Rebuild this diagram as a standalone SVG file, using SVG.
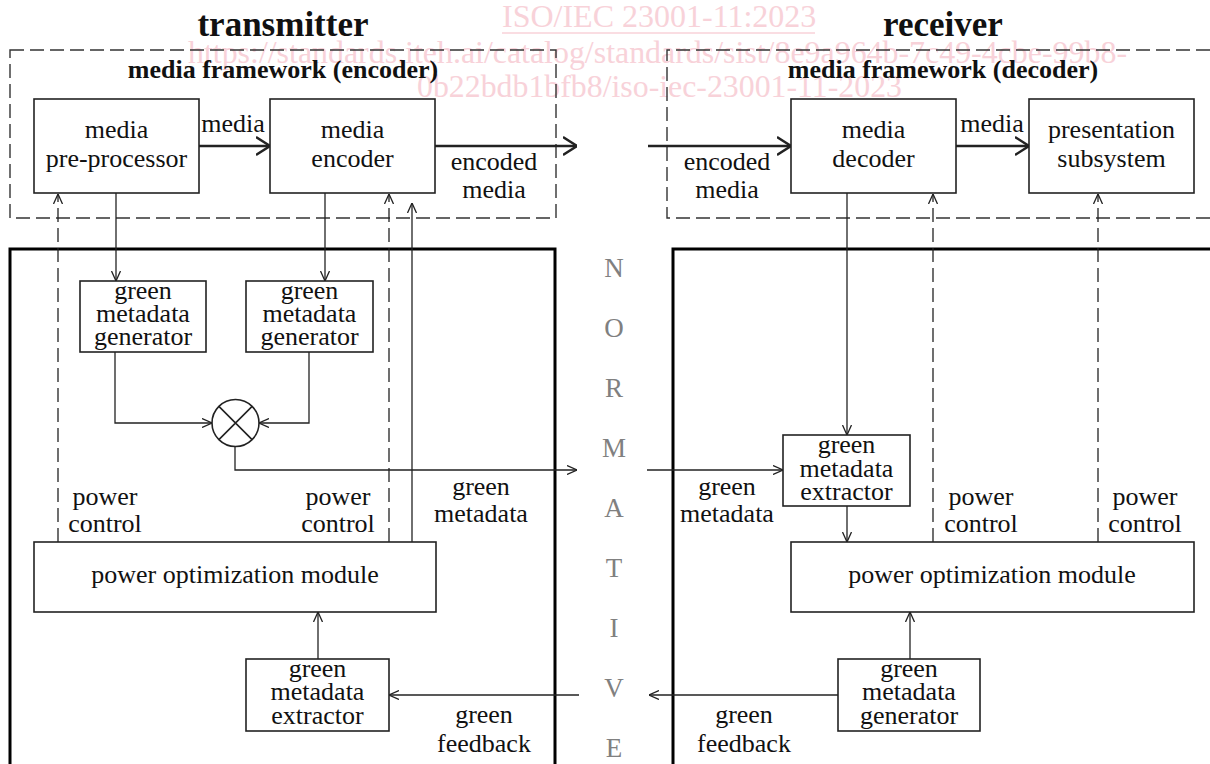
<svg xmlns="http://www.w3.org/2000/svg" width="1210" height="764" viewBox="0 0 1210 764">
<defs>
<style>
text{font-family:"Liberation Serif","Times New Roman",serif;font-size:26px;fill:#111;text-anchor:middle}
.wm{fill:#f8d2d9;font-size:32px;text-anchor:start}
.title{font-weight:bold;font-size:35px}
.fw{font-weight:bold;font-size:26px}
.norm{fill:#808080;font-size:27px}
.box{fill:none;stroke:#222;stroke-width:1.6}
.thin{fill:none;stroke:#222;stroke-width:1.3}
.dash{fill:none;stroke:#222;stroke-width:1.3;stroke-dasharray:14 6}
.frame{fill:none;stroke:#333;stroke-width:1.4;stroke-dasharray:14 6}
.solidframe{fill:none;stroke:#000;stroke-width:3}
.thick{fill:none;stroke:#222;stroke-width:2.4}
</style>
<marker id="a" viewBox="0 0 10 10" refX="10" refY="5" markerWidth="10" markerHeight="10" markerUnits="userSpaceOnUse" orient="auto">
<path d="M0,0.5 L10,5 L0,9.5" fill="none" stroke="#222" stroke-width="1.3"/>
</marker>
<marker id="A" viewBox="0 0 14 20" refX="14" refY="10" markerWidth="14" markerHeight="20" markerUnits="userSpaceOnUse" orient="auto">
<path d="M0,1 L14,10 L0,19" fill="none" stroke="#222" stroke-width="2.4"/>
</marker>
</defs>

<g id="watermark">
<text class="wm" x="502" y="27">ISO/IEC 23001-11:2023</text>
<line x1="502" y1="33" x2="815" y2="33" stroke="#f8d2d9" stroke-width="1.5"/>
<text class="wm" x="188" y="63" textLength="939" lengthAdjust="spacingAndGlyphs">https://standards.iteh.ai/catalog/standards/sist/8e9a964b-7c49-4cbe-99b8-</text>
<text class="wm" x="417" y="97" textLength="485" lengthAdjust="spacingAndGlyphs">0b22bdb1bfb8/iso-iec-23001-11-2023</text>
</g>

<g id="titles">
<text class="title" x="283" y="36">transmitter</text>
<text class="title" x="943" y="36">receiver</text>
</g>

<g id="frames">
<rect class="frame" x="10" y="50" width="546" height="168"/>
<path class="frame" d="M1210,50 H667 V218 H1210"/>
<text class="fw" x="283" y="78">media framework (encoder)</text>
<text class="fw" x="943" y="78">media framework (decoder)</text>
<path class="solidframe" d="M10,766 V249 H555 V766"/>
<path class="solidframe" d="M1212,249 H673 V766"/>
</g>

<g id="normative">
<text class="norm" x="614" y="277">N</text>
<text class="norm" x="614" y="337">O</text>
<text class="norm" x="614" y="397">R</text>
<text class="norm" x="614" y="457">M</text>
<text class="norm" x="614" y="517">A</text>
<text class="norm" x="614" y="577">T</text>
<text class="norm" x="614" y="637">I</text>
<text class="norm" x="614" y="697">V</text>
<text class="norm" x="614" y="757">E</text>
</g>

<g id="connectors">
<line class="thick" x1="199" y1="146" x2="270" y2="146" marker-end="url(#A)"/>
<line class="thick" x1="435" y1="146" x2="577" y2="146" marker-end="url(#A)"/>
<line class="thick" x1="648" y1="146" x2="791" y2="146" marker-end="url(#A)"/>
<line class="thick" x1="956" y1="146" x2="1029" y2="146" marker-end="url(#A)"/>
<line class="thin" x1="116" y1="193" x2="116" y2="281" marker-end="url(#a)"/>
<line class="thin" x1="325" y1="193" x2="325" y2="281" marker-end="url(#a)"/>
<path class="thin" d="M115,352 V423 H212" marker-end="url(#a)"/>
<path class="thin" d="M309,352 V423 H259" marker-end="url(#a)"/>
<path class="thin" d="M235,447 V470 H577" marker-end="url(#a)"/>
<line class="thin" x1="412" y1="542" x2="412" y2="203" marker-end="url(#a)"/>
<line class="dash" x1="58" y1="542" x2="58" y2="194" marker-end="url(#a)"/>
<line class="dash" x1="389" y1="542" x2="389" y2="194" marker-end="url(#a)"/>
<line class="thin" x1="318" y1="659" x2="318" y2="612" marker-end="url(#a)"/>
<line class="thin" x1="579" y1="695" x2="389" y2="695" marker-end="url(#a)"/>
<line class="thin" x1="847" y1="193" x2="847" y2="435" marker-end="url(#a)"/>
<line class="thin" x1="647" y1="470" x2="783" y2="470" marker-end="url(#a)"/>
<line class="thin" x1="847" y1="506" x2="847" y2="542" marker-end="url(#a)"/>
<line class="dash" x1="933" y1="542" x2="933" y2="194" marker-end="url(#a)"/>
<line class="dash" x1="1098" y1="542" x2="1098" y2="194" marker-end="url(#a)"/>
<line class="thin" x1="910" y1="659" x2="910" y2="612" marker-end="url(#a)"/>
<line class="thin" x1="838" y1="695" x2="649" y2="695" marker-end="url(#a)"/>
</g>

<g id="labels">
<text x="233" y="132">media</text>
<text x="494" y="170">encoded</text>
<text x="494" y="198">media</text>
<text x="992" y="132">media</text>
<text x="727" y="170">encoded</text>
<text x="727" y="198">media</text>
<text x="481" y="495">green</text>
<text x="481" y="522">metadata</text>
<text x="727" y="495">green</text>
<text x="727" y="522">metadata</text>
<text x="105" y="505">power</text>
<text x="105" y="532">control</text>
<text x="338" y="505">power</text>
<text x="338" y="532">control</text>
<text x="981" y="505">power</text>
<text x="981" y="532">control</text>
<text x="1145" y="505">power</text>
<text x="1145" y="532">control</text>
<text x="484" y="723">green</text>
<text x="484" y="752">feedback</text>
<text x="744" y="723">green</text>
<text x="744" y="752">feedback</text>
</g>

<g id="media-pre-processor">
<rect class="box" x="34" y="99" width="165" height="94"/>
<text x="116.5" y="138">media</text>
<text x="116.5" y="167">pre-processor</text>
</g>
<g id="media-encoder">
<rect class="box" x="270" y="99" width="165" height="94"/>
<text x="352.5" y="138">media</text>
<text x="352.5" y="167">encoder</text>
</g>
<g id="media-decoder">
<rect class="box" x="791" y="99" width="165" height="94"/>
<text x="873.5" y="138">media</text>
<text x="873.5" y="167">decoder</text>
</g>
<g id="presentation-subsystem">
<rect class="box" x="1029" y="99" width="165" height="94"/>
<text x="1111.5" y="138">presentation</text>
<text x="1111.5" y="167">subsystem</text>
</g>
<g id="gm-generator-1">
<rect class="box" x="80" y="281" width="126" height="71"/>
<text x="143" y="299">green</text>
<text x="143" y="322">metadata</text>
<text x="143" y="345">generator</text>
</g>
<g id="gm-generator-2">
<rect class="box" x="246" y="281" width="127" height="71"/>
<text x="309.5" y="299">green</text>
<text x="309.5" y="322">metadata</text>
<text x="309.5" y="345">generator</text>
</g>
<g id="combiner">
<circle class="box" cx="235.5" cy="423" r="23.5"/>
<path class="box" d="M218.9,406.4 L252.1,439.6 M252.1,406.4 L218.9,439.6"/>
</g>
<g id="power-opt-tx">
<rect class="box" x="34" y="542" width="402" height="70"/>
<text x="235" y="583">power optimization module</text>
</g>
<g id="gm-extractor-tx">
<rect class="box" x="246" y="659" width="143" height="72"/>
<text x="317.5" y="677">green</text>
<text x="317.5" y="700">metadata</text>
<text x="317.5" y="724">extractor</text>
</g>
<g id="gm-extractor-rx">
<rect class="box" x="783" y="435" width="127" height="71"/>
<text x="846.5" y="453">green</text>
<text x="846.5" y="477">metadata</text>
<text x="846.5" y="500">extractor</text>
</g>
<g id="power-opt-rx">
<rect class="box" x="791" y="542" width="403" height="70"/>
<text x="992" y="583">power optimization module</text>
</g>
<g id="gm-generator-rx">
<rect class="box" x="838" y="659" width="142" height="72"/>
<text x="909" y="677">green</text>
<text x="909" y="700">metadata</text>
<text x="909" y="724">generator</text>
</g>
</svg>
